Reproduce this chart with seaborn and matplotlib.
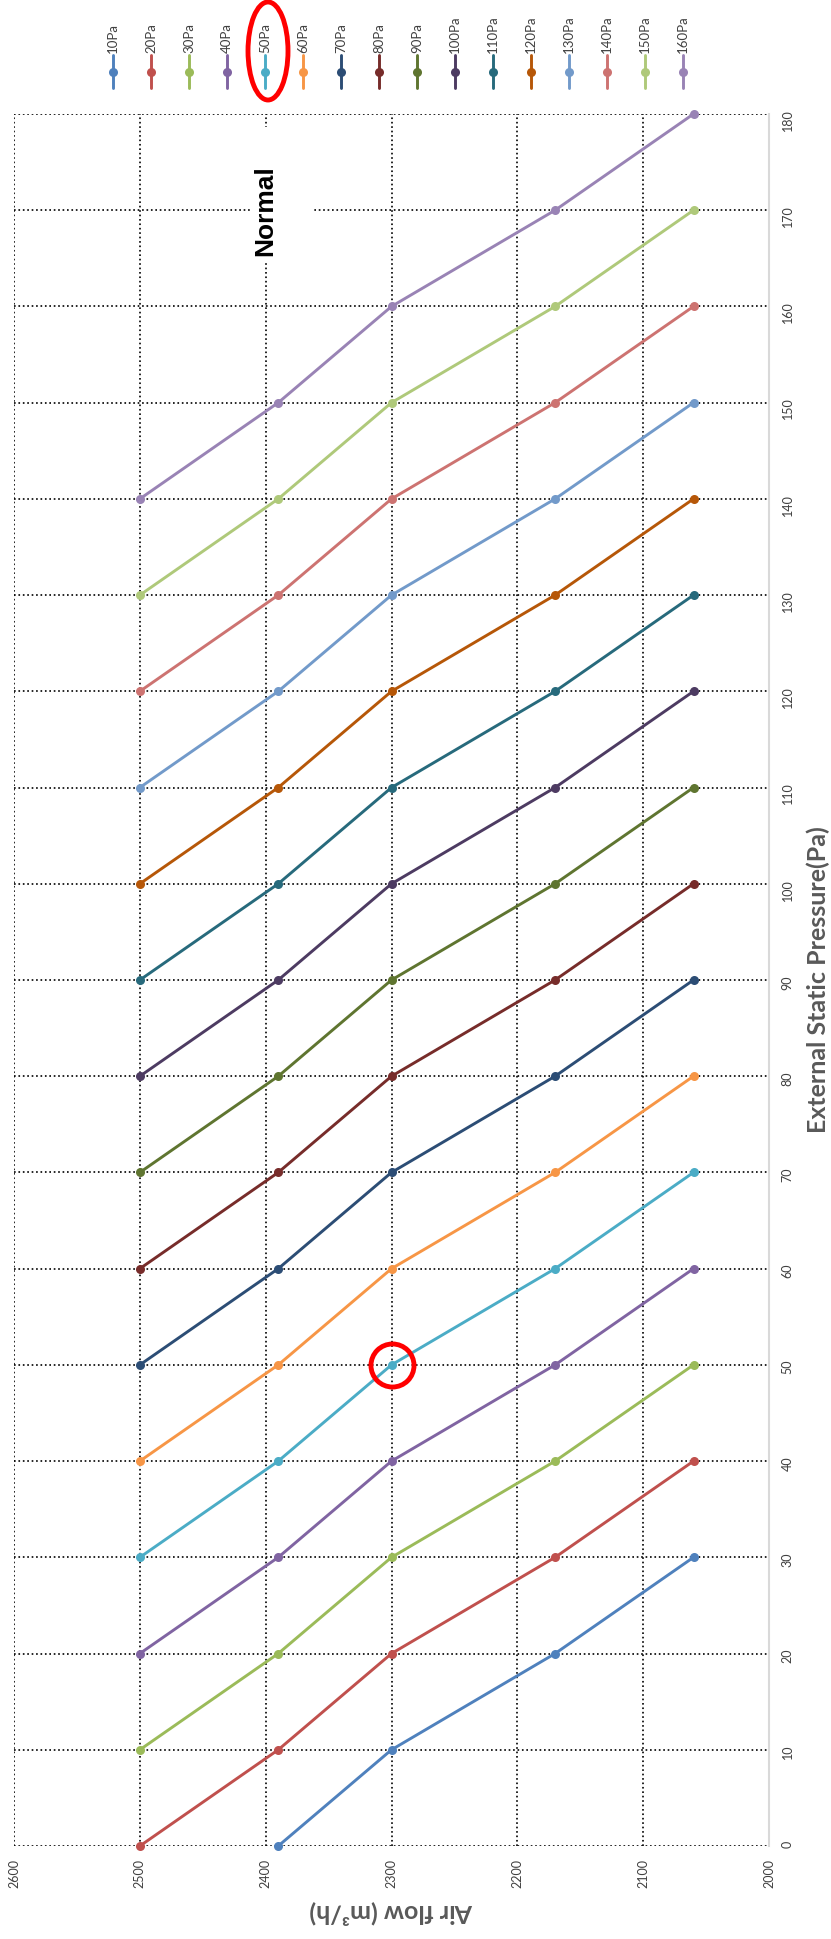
import numpy as np
import pandas as pd
import matplotlib
matplotlib.use('Agg')
import matplotlib.pyplot as plt
from matplotlib.lines import Line2D
from matplotlib.patches import Ellipse, Rectangle
import seaborn as sns

# series (one curve per fan setting)
series_names = ['10Pa', '20Pa', '30Pa', '40Pa', '50Pa', '60Pa', '70Pa', '80Pa',
                '90Pa', '100Pa', '110Pa', '120Pa', '130Pa', '140Pa', '150Pa', '160Pa']
series_colors = ['#4F81BD', '#C0504D', '#9BBB59', '#8064A2', '#4BACC6', '#F79646',
                 '#2C4D75', '#772C2A', '#5F7530', '#4D3B62', '#276A7C', '#B65708',
                 '#729ACA', '#CD7371', '#AFC97A', '#9983B5']

# air flow of the 5 points on every curve (m3/h)
airflow_levels = [2500, 2390, 2300, 2170, 2060]

# external static pressure of each point (Pa)
series_pressures = [
    [np.nan, 0, 10, 20, 30],
    [0, 10, 20, 30, 40],
    [10, 20, 30, 40, 50],
    [20, 30, 40, 50, 60],
    [30, 40, 50, 60, 70],
    [40, 50, 60, 70, 80],
    [50, 60, 70, 80, 90],
    [60, 70, 80, 90, 100],
    [70, 80, 90, 100, 110],
    [80, 90, 100, 110, 120],
    [90, 100, 110, 120, 130],
    [100, 110, 120, 130, 140],
    [110, 120, 130, 140, 150],
    [120, 130, 140, 150, 160],
    [130, 140, 150, 160, 170],
    [140, 150, 160, 170, 180],
]

airflow_ticks = [2600, 2500, 2400, 2300, 2200, 2100, 2000]
pressure_ticks = [0, 10, 20, 30, 40, 50, 60, 70, 80, 90, 100, 110, 120, 130, 140, 150, 160, 170, 180]

rows = []
for name, pressures in zip(series_names, series_pressures):
    for a, p in zip(airflow_levels, pressures):
        if not np.isnan(p):
            rows.append({'series': name, 'airflow': a, 'pressure': p})
df = pd.DataFrame(rows)

sns.set_theme(style='white')
plt.rcParams['font.family'] = ['Lato', 'DejaVu Sans']

W, H = 831, 1939
fig = plt.figure(figsize=(W / 100, H / 100), dpi=100)
ax = fig.add_axes([14 / W, 1 - 1846 / H, (769 - 14) / W, (1846 - 114) / H])

ax.set_axisbelow(True)
ax.grid(True, color='black', linestyle=':', linewidth=1.2)

sns.lineplot(data=df, x='airflow', y='pressure', hue='series', hue_order=series_names,
             palette=series_colors, marker='o', markersize=6.5, markeredgewidth=0,
             linewidth=2.1, sort=False, estimator=None, legend=False, ax=ax,
             clip_on=False, zorder=3)

ax.set_xlim(2600, 2000)
ax.set_ylim(0, 180)
ax.set_xticks(airflow_ticks)
ax.set_yticks(pressure_ticks)
ax.yaxis.tick_right()

for s in ['top', 'left', 'bottom']:
    ax.spines[s].set_visible(False)
ax.spines['right'].set_color('#d9d9d9')
ax.spines['right'].set_linewidth(1.5)

ax.tick_params(axis='x', length=0, pad=9, labelrotation=90, labelsize=9, labelcolor='#404040')
ax.tick_params(axis='y', length=0, pad=9, labelrotation=90, labelsize=9, labelcolor='#404040')

ax.set_xlabel('Air flow (m³/h)', rotation=180, fontsize=18, fontweight='bold', color='#595959')
ax.xaxis.set_label_coords(0.5, -(1913 - 1846) / (1846 - 114))
ax.xaxis.label.set_va('center')
ax.yaxis.set_label_position('right')
ax.set_ylabel('External Static Pressure(Pa)', rotation=90, fontsize=18, fontweight='bold',
              color='#595959')
ax.yaxis.set_label_coords((818 - 14) / (769 - 14), 0.5)
ax.yaxis.label.set_va('center')
ax.yaxis.label.set_ha('center')

# "Normal" text box
ax.add_patch(Rectangle((2411, 164.7), 2363 - 2411, 178.6 - 164.7, facecolor='white',
                       edgecolor='none', zorder=1))
ax.text(2400, 170, 'Normal', rotation=90, ha='center', va='center', fontsize=19,
        fontweight='bold', color='black', family=['Liberation Sans', 'DejaVu Sans'], zorder=4)

# red circle around the 50Pa operating point
ax.plot([2300], [50], marker='o', markersize=31, markerfacecolor='none',
        markeredgecolor='red', markeredgewidth=3.5, zorder=5)

# legend, laid out along the top
for i, (name, col) in enumerate(zip(series_names, series_colors)):
    x = (113 + 38 * i) / W
    fig.add_artist(Line2D([x, x], [1 - 55 / H, 1 - 88 / H], transform=fig.transFigure,
                          color=col, linewidth=2.1))
    fig.add_artist(Line2D([x], [1 - 72 / H], transform=fig.transFigure, color=col,
                          marker='o', markersize=6.5, markeredgewidth=0))
    fig.text(x, 1 - 53 / H, name, rotation=90, ha='center', va='bottom', fontsize=9.5,
             color='#404040')

fig.add_artist(Ellipse((268 / W, 1 - 51 / H), 40 / W, 98 / H, transform=fig.transFigure,
                       fill=False, edgecolor='red', linewidth=3.5))

fig.savefig('out.png', dpi=100, facecolor='white')
